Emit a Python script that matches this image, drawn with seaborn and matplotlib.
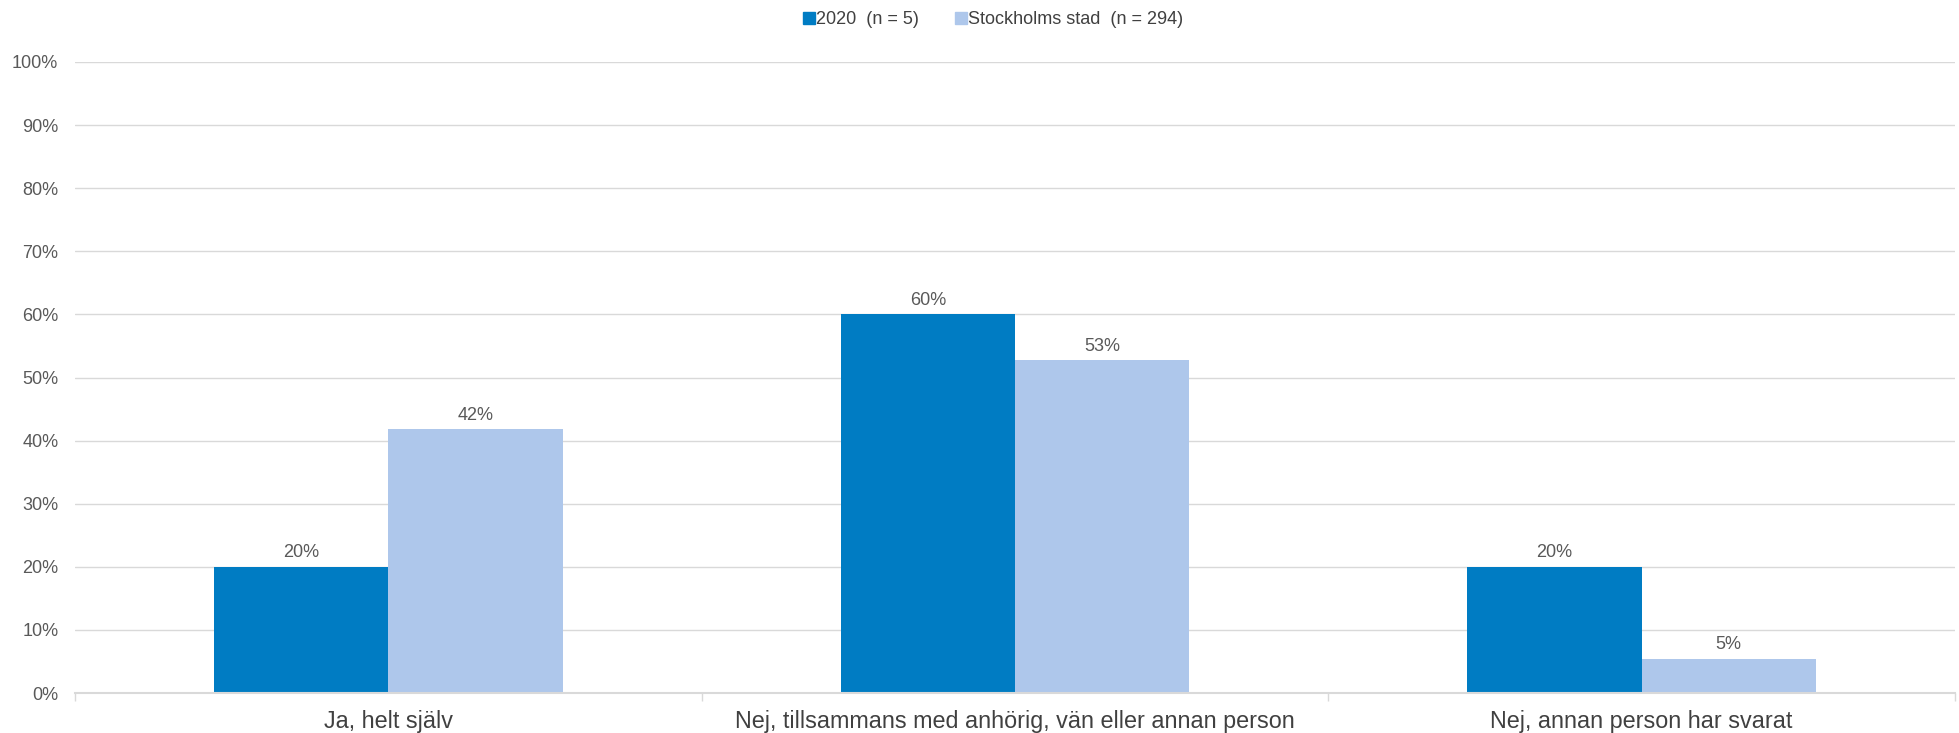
import matplotlib
matplotlib.use("Agg")
import matplotlib.pyplot as plt
from matplotlib.lines import Line2D
from matplotlib.ticker import FixedLocator
import seaborn as sns
import pandas as pd

categories = ["Ja, helt själv",
              "Nej, tillsammans med anhörig, vän eller annan person",
              "Nej, annan person har svarat"]
series_names = ["2020  (n = 5)", "Stockholms stad  (n = 294)"]
values_2020 = [20, 60, 20]
values_sthlm = [41.8, 52.7, 5.4]
colors = ["#007CC3", "#AEC7EB"]
yticks = list(range(0, 101, 10))

sns.set_theme(style="white")
plt.rcParams['font.family'] = ['Liberation Sans', 'DejaVu Sans']

df = pd.DataFrame({
    "category": categories * 2,
    "series": [series_names[0]] * 3 + [series_names[1]] * 3,
    "value": values_2020 + values_sthlm,
})

fig = plt.figure(figsize=(19.59, 7.33), dpi=100)
ax = fig.add_axes([75/1959, 1 - 693/733, (1955 - 75)/1959, (693 - 62)/733])

sns.barplot(data=df, x="category", y="value", hue="series", order=categories,
            hue_order=series_names, palette=colors, width=0.556, ax=ax,
            errorbar=None, saturation=1, legend=False, linewidth=0)

for cont in ax.containers:
    labels = [f"{round(b.get_height()):d}%" for b in cont]
    ax.bar_label(cont, labels=labels, padding=4, fontsize=13, color="#595959")

ax.set_xlim(-0.5, 2.5)
ax.set_ylim(0, 100)
ax.set_yticks(yticks)
ax.set_yticklabels([f"{t}%" for t in yticks])
ax.yaxis.grid(True, color="#D9D9D9", linewidth=1)
ax.set_axisbelow(True)
ax.tick_params(axis="y", length=0, pad=12, labelsize=13, labelcolor="#595959")
ax.tick_params(axis="x", which="major", length=0, pad=12, labelsize=16.8, labelcolor="#404040")
ax.xaxis.set_minor_locator(FixedLocator([-0.5, 0.5, 1.5, 2.5]))
ax.tick_params(axis="x", which="minor", length=6, width=1, color="#D9D9D9", bottom=True)
ax.set_xlabel("")
ax.set_ylabel("")
for s in ["top", "right", "left"]:
    ax.spines[s].set_visible(False)
ax.spines["bottom"].set_color("#D9D9D9")
ax.spines["bottom"].set_linewidth(1.5)

handles = [Line2D([], [], marker="s", linestyle="", markersize=9,
                  markerfacecolor=c, markeredgecolor=c) for c in colors]
fig.legend(handles, series_names, loc="center", bbox_to_anchor=(0.507, 1 - 20/733),
           ncol=2, frameon=False, fontsize=13, handlelength=0.6, handletextpad=0.1,
           columnspacing=2.0, labelcolor="#404040")

fig.savefig("out.png", dpi=100, facecolor="white")
